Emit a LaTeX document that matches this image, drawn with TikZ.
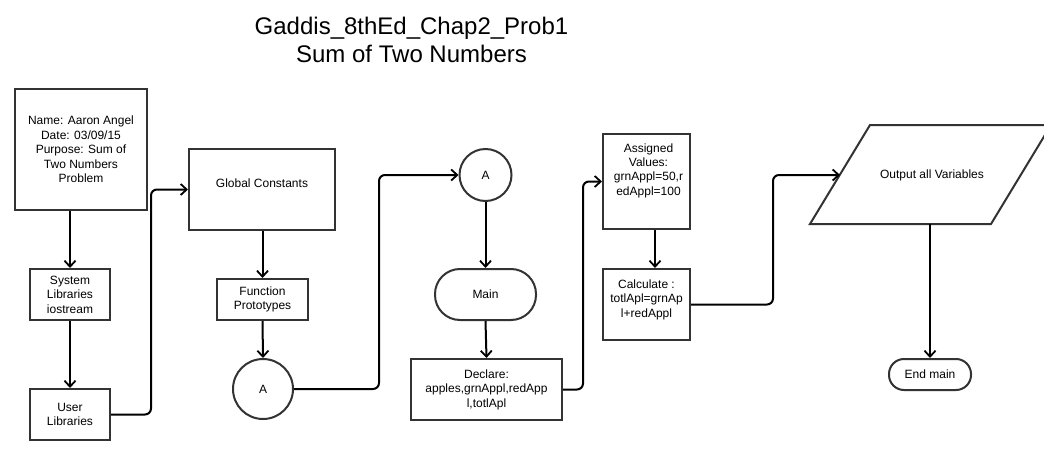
\documentclass[tikz,border=0pt]{standalone}
\usepackage{fontspec}
\setmainfont{Liberation Sans}
\usetikzlibrary{arrows.meta}
\tikzset{
  box/.style={draw=black!80, line width=2pt, inner sep=0pt, align=center,
    font=\fontsize{12}{14.4}\selectfont},
  conn/.style={draw=black, line width=2pt, rounded corners=6pt,
    -{Straight Barb[length=6pt,width=11pt,line width=1.8pt]}},
  ttl/.style={align=center, font=\fontsize{24}{28.8}\selectfont}
}
\begin{document}
\begin{tikzpicture}[x=1pt,y=-1pt]
\useasboundingbox (0,0) rectangle (1044,460);
\clip (0,0) rectangle (1044,460);
\fill[white] (0,0) rectangle (1044,460);

\node[ttl] (title) at (411.5,40) {Gaddis\_8thEd\_Chap2\_Prob1\\Sum of Two Numbers};

\node[box, minimum width=132pt, minimum height=121pt] (name) at (81,149.5)
  {Name: Aaron Angel\\Date: 03/09/15\\Purpose: Sum of\\Two Numbers\\Problem};
\node[box, minimum width=80pt, minimum height=51pt] (sys) at (70,294.5)
  {System\\Libraries\\iostream};
\node[box, minimum width=80pt, minimum height=51pt] (ul) at (70,414.5)
  {User\\Libraries};
\node[box, minimum width=146pt, minimum height=81pt,
  label={[font=\fontsize{12}{14.4}\selectfont, yshift=6.5pt]center:Global Constants}] (gc) at (262,189.5) {};
\node[box, minimum width=91pt, minimum height=41pt] (fp) at (262.5,299.5)
  {Function\\Prototypes};
\node[box, circle, minimum size=60pt] (a1) at (263,389) {A};
\node[box, circle, minimum size=52pt] (a2) at (485.5,175) {A};
\node[box, minimum width=101pt, minimum height=51pt, rounded corners=25pt] (main) at (485.5,294.5) {Main};
\node[box, minimum width=151pt, minimum height=61pt] (dec) at (486.5,389.5)
  {Declare:\\apples,grnAppl,redApp\\l,totlApl};
\node[box, minimum width=87pt, minimum height=95pt,
  label={[font=\fontsize{12}{14.4}\selectfont, align=center, yshift=11pt, xshift=2pt]center:Assigned\\Values:\\grnAppl=50,r\\edAppl=100}] (asg) at (646.5,181.5) {};
\node[box, minimum width=87pt, minimum height=71pt,
  label={[font=\fontsize{12}{14.4}\selectfont, align=center, yshift=5pt]center:Calculate :\\totlApl=grnAp\\l+redAppl}] (calc) at (646.5,304.5) {};

% parallelogram
\draw[draw=black!80, line width=2pt, line join=miter] (870,125) -- (1051,125) -- (991,224) -- (810,224) -- cycle;
\node[font=\fontsize{12}{14.4}\selectfont] (out) at (932,175) {Output all Variables};
\coordinate (outL) at (840,175);
\coordinate (outB) at (930,224);

\node[box, minimum width=82pt, minimum height=31pt, rounded corners=15pt] (endm) at (930,374.5) {End main};

% vertical arrows
\draw[conn] (sys.north |- name.south) -- (sys.north);
\draw[conn] (sys.south) -- (ul.north);
\draw[conn] (fp.north |- gc.south) -- (fp.north);
\draw[conn] (fp.south) -- (a1.north);
\draw[conn] (a2.south) -- (main.north);
\draw[conn] (main.south) -- (dec.north);
\draw[conn] ([xshift=8.5pt]asg.south) -- ([xshift=8.5pt]calc.north);
\draw[conn] (outB) -- (endm.north);

% elbow connectors
\draw[conn] (ul.east) -- ++(40,0) |- (gc.west);
\draw[conn] (a1.east) -- ++(85,0) |- (a2.west);
\draw[conn] (dec.east) -- ++(20,0) |- (asg.west);
\draw[conn] (calc.east) -- ++(82,0) |- (outL);
\end{tikzpicture}
\end{document}
